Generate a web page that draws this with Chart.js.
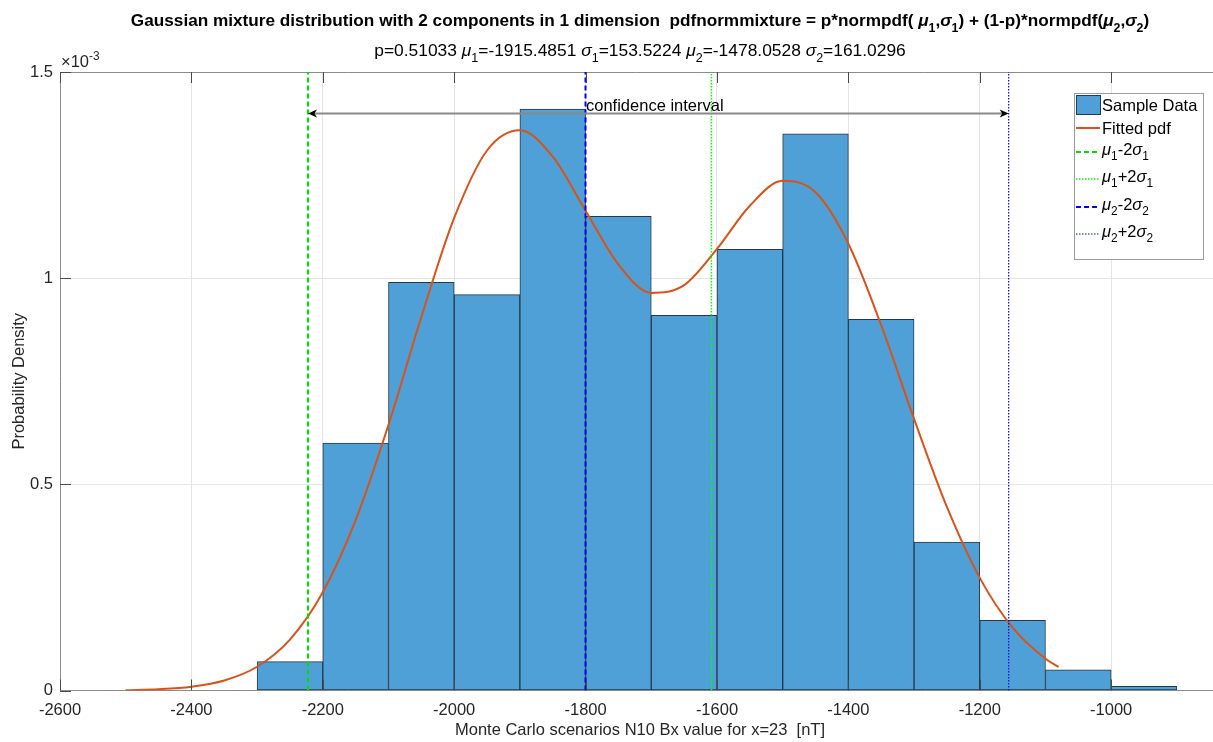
<!DOCTYPE html>
<html>
<head>
<meta charset="utf-8">
<script src="https://cdn.jsdelivr.net/npm/chart.js@4.4.1/dist/chart.umd.min.js"></script>
<style>
html,body{margin:0;padding:0;background:#fff;overflow:hidden}
#wrap{width:1213px;height:742px;position:relative}
canvas{display:block}
</style>
</head>
<body>
<div id="wrap"><canvas id="c" width="1213" height="742"></canvas></div>
<script>
// ---------------- data ----------------
const binCenters = [-2250,-2150,-2050,-1950,-1850,-1750,-1650,-1550,-1450,-1350,-1250,-1150,-1050,-950];
const binDensity = [0.07,0.60,0.99,0.96,1.41,1.15,0.91,1.07,1.35,0.90,0.36,0.17,0.05,0.01]; // x10^-3

const pdfX = [-2500,-2450,-2400,-2350,-2300,-2250,-2200,-2150,-2100,-2050,-2000,-1950,-1900,-1850,-1800,
              -1750,-1700,-1650,-1600,-1550,-1500,-1450,-1400,-1350,-1300,-1250,-1200,-1150,-1100,-1080];
const pdfY = [0.0009,0.0031,0.0091,0.0242,0.0576,0.1235,0.2382,0.4130,0.6445,0.9057,1.1460,1.3096,1.3585,1.2950,1.1637,
              1.0331,0.9643,0.9832,1.0711,1.1757,1.2360,1.2082,1.0834,0.8858,0.6586,0.4451,0.2731,0.1524,0.0770,0.0571];

const refLineX = [-2222.53, -1608.44, -1800.11, -1155.99]; // mu1-2s1, mu1+2s1, mu2-2s2, mu2+2s2

const xTicks = [-2600,-2400,-2200,-2000,-1800,-1600,-1400,-1200,-1000];
const yTicks = [0,0.5,1,1.5];
const yTickLabels = ['0','0.5','1','1.5'];

const mixP = 0.51033;
const muVals = [-1915.4851, -1478.0528];
const sigmaVals = [153.5224, 161.0296];

const ciY = 1.40;          // confidence interval arrow height (x10^-3)
const ciLabel = 'confidence interval';

// ---------------- styles ----------------
const FONT = '"Liberation Sans", Arial, Helvetica, sans-serif';
const FS = 16.5;
const BAR_FILL = 'rgb(78,160,214)';
const BAR_EDGE = '#26394a';
const PDF_COLOR = 'rgb(217,83,25)';
const GREEN = '#00e000';
const GREEN_DOT = '#00ff00';
const BLUE = '#0000f5';
const AXIS = '#8c8c8c';

function segFont(size, bold, italic){ return (italic?'italic ':'')+(bold?'bold ':'')+size+'px '+FONT; }
function layoutRich(ctx, segs, size, bold){
  let w=0; const items=[];
  for(const s of segs){
    const t=s[0], kind=s[1]||'';
    let sz=size, dy=0, it=false;
    if(kind==='sub'){sz=size*0.72; dy=size*0.33;}
    else if(kind==='sup'){sz=size*0.72; dy=-size*0.45;}
    else if(kind==='g'){it=true;}
    const f=segFont(sz,bold,it); ctx.font=f;
    const mw=ctx.measureText(t).width;
    items.push({t,f,dy,x:w}); w+=mw;
  }
  return {items,w};
}
function drawRich(ctx, segs, x, y, size, bold, align, color){
  const L=layoutRich(ctx,segs,size,bold);
  const x0 = align==='center' ? x-L.w/2 : (align==='right' ? x-L.w : x);
  ctx.save(); ctx.fillStyle=color||'#000'; ctx.textBaseline='alphabetic'; ctx.textAlign='left';
  for(const it of L.items){ ctx.font=it.f; ctx.fillText(it.t, x0+it.x, y+it.dy); }
  ctx.restore();
}

const titleSegs = [['Gaussian mixture distribution with 2 components in 1 dimension  pdfnormmixture = p*normpdf( '],
  ['μ','g'],['1','sub'],[','],['σ','g'],['1','sub'],[') + (1-p)*normpdf('],['μ','g'],['2','sub'],[','],['σ','g'],['2','sub'],[')']];
const subSegs = [['p='+String(mixP)+' '],['μ','g'],['1','sub'],['='+String(muVals[0])+' '],['σ','g'],['1','sub'],['='+String(sigmaVals[0])+' '],
  ['μ','g'],['2','sub'],['='+String(muVals[1])+' '],['σ','g'],['2','sub'],['='+String(sigmaVals[1])]];

const legendItems = [
  {kind:'patch', segs:[['Sample Data']], y:105},
  {kind:'line', color:PDF_COLOR, width:2, dash:[], segs:[['Fitted pdf']], y:128},
  {kind:'line', color:GREEN, width:2, dash:[5,3], segs:[['μ','g'],['1','sub'],['-2'],['σ','g'],['1','sub']], y:152, g:true},
  {kind:'line', color:GREEN_DOT, width:1.5, dash:[1.5,1.5], segs:[['μ','g'],['1','sub'],['+2'],['σ','g'],['1','sub']], y:179, g:true},
  {kind:'line', color:BLUE, width:2, dash:[5,3], segs:[['μ','g'],['2','sub'],['-2'],['σ','g'],['2','sub']], y:207, g:true},
  {kind:'line', color:BLUE, width:1.2, dash:[1.5,1.5], segs:[['μ','g'],['2','sub'],['+2'],['σ','g'],['2','sub']], y:234, g:true}
];

const decor = {
  id:'decor',
  beforeDatasetsDraw(chart){
    const {ctx, chartArea:a} = chart;
    ctx.save();
    ctx.strokeStyle=AXIS; ctx.lineWidth=1;
    ctx.beginPath(); ctx.moveTo(a.left, a.top+0.5); ctx.lineTo(a.right, a.top+0.5); ctx.stroke();
    ctx.restore();
  },
  afterDatasetsDraw(chart){
    const {ctx, chartArea:a, scales:{x,y}} = chart;
    ctx.save();
    // inward tick marks
    ctx.strokeStyle='#4a4a4a'; ctx.lineWidth=1;
    ctx.beginPath();
    for(const v of xTicks){ const px=Math.round(x.getPixelForValue(v))+0.5;
      ctx.moveTo(px,a.bottom); ctx.lineTo(px,a.bottom-11);
      ctx.moveTo(px,a.top); ctx.lineTo(px,a.top+11); }
    for(const v of yTicks){ const py=Math.round(y.getPixelForValue(v))+0.5;
      ctx.moveTo(a.left,py); ctx.lineTo(a.left+11,py); }
    ctx.stroke();

    // confidence interval double arrow
    const x1=x.getPixelForValue(refLineX[0]), x2=x.getPixelForValue(refLineX[3]);
    const yy=Math.round(y.getPixelForValue(ciY))+0.5;
    ctx.strokeStyle='#8a8a8a'; ctx.lineWidth=1.8;
    ctx.beginPath(); ctx.moveTo(x1+4,yy); ctx.lineTo(x2-4,yy); ctx.stroke();
    ctx.fillStyle='#000';
    const head=(tx,dir)=>{ ctx.beginPath(); ctx.moveTo(tx,yy); ctx.lineTo(tx+dir*9,yy-4); ctx.lineTo(tx+dir*6.5,yy); ctx.lineTo(tx+dir*9,yy+4); ctx.closePath(); ctx.fill(); };
    head(x1,1); head(x2,-1);
    ctx.font=segFont(FS,false,false); ctx.textAlign='left'; ctx.textBaseline='alphabetic';
    ctx.fillText(ciLabel, x.getPixelForValue(refLineX[2])+0.5, yy-3);

    // y exponent
    drawRich(ctx, [['×10'],['-3','sup']], a.left+1, a.top-5, FS, false, 'left', '#262626');
    ctx.restore();
  },
  afterDraw(chart){
    const {ctx} = chart;
    // titles
    drawRich(ctx, titleSegs, 640, 26, 17.2, true, 'center', '#000');
    drawRich(ctx, subSegs, 640, 56, 17.4, false, 'center', '#000');
    // legend
    ctx.save();
    const L=1074.5, T=93.5, R=1203.5, B=259.5;
    ctx.fillStyle='#fff'; ctx.fillRect(L,T,R-L,B-T);
    ctx.strokeStyle='#9a9a9a'; ctx.lineWidth=1; ctx.strokeRect(L,T,R-L,B-T);
    for(const it of legendItems){
      if(it.kind==='patch'){
        ctx.fillStyle=BAR_FILL; ctx.fillRect(1076.5,it.y-9.5,24,19);
        ctx.strokeStyle=BAR_EDGE; ctx.lineWidth=1; ctx.strokeRect(1076.5,it.y-9.5,24,19);
      } else {
        ctx.strokeStyle=it.color; ctx.lineWidth=it.width; ctx.setLineDash(it.dash);
        ctx.beginPath(); ctx.moveTo(1076,it.y); ctx.lineTo(1100,it.y); ctx.stroke(); ctx.setLineDash([]);
      }
      drawRich(ctx, it.segs, 1102, it.y + (it.g?2.5:5.5), FS, false, 'left', '#000');
    }
    ctx.restore();
    // x axis title (centred like the reference)
    ctx.save();
    ctx.font=segFont(FS,false,false); ctx.fillStyle='#262626'; ctx.textAlign='center'; ctx.textBaseline='alphabetic';
    ctx.fillText('Monte Carlo scenarios N10 Bx value for x=23  [nT]', 640, 735);
    ctx.restore();
  }
};

const vLine = (v,color,width,dash)=>({
  type:'line', data:[{x:v,y:0},{x:v,y:1.5}], borderColor:color, borderWidth:width, borderDash:dash,
  pointRadius:0, fill:false, order:1
});

new Chart(document.getElementById('c'), {
  type:'bar',
  data:{
    datasets:[
      { type:'bar', label:'Sample Data', data:binCenters.map((c,i)=>({x:c,y:binDensity[i]})),
        backgroundColor:BAR_FILL, borderColor:BAR_EDGE, borderWidth:1, borderSkipped:false,
        barPercentage:1, categoryPercentage:1, order:3 },
      { type:'line', label:'Fitted pdf', data:pdfX.map((v,i)=>({x:v,y:pdfY[i]})), borderColor:PDF_COLOR,
        borderWidth:2, pointRadius:0, fill:false, cubicInterpolationMode:'monotone', order:2 },
      vLine(refLineX[0], GREEN, 2, [5,3]),
      vLine(refLineX[1], GREEN_DOT, 1.5, [1.5,1.5]),
      vLine(refLineX[2], BLUE, 2, [5,3]),
      vLine(refLineX[3], BLUE, 1.2, [1.5,1.5])
    ]
  },
  options:{
    responsive:false, animation:false, devicePixelRatio:1, events:[],
    layout:{padding:{top:72,left:0,right:0,bottom:0}},
    plugins:{legend:{display:false}, title:{display:false}, tooltip:{enabled:false}},
    scales:{
      x:{ type:'linear', min:-2600, max:-845, offset:false,
          grid:{color:'#e4e4e4', drawTicks:false, offset:false},
          border:{display:true, color:AXIS, width:1},
          afterBuildTicks:s=>{ s.ticks = xTicks.map(v=>({value:v})); },
          afterFit:s=>{ s.height = 51.5; },
          ticks:{ padding:10, color:'#262626', font:{family:FONT, size:FS}, maxRotation:0, autoSkip:false,
                  callback:v=>String(v) },
          title:{ display:false } },
      y:{ type:'linear', min:0, max:1.5,
          grid:{color:'#e4e4e4', drawTicks:false},
          border:{display:true, color:AXIS, width:1},
          afterBuildTicks:s=>{ s.ticks = yTicks.map(v=>({value:v})); },
          afterFit:s=>{ s.width = 60; },
          ticks:{ padding:7, color:'#262626', font:{family:FONT, size:FS},
                  callback:(v)=>{ const i=yTicks.indexOf(v); return i>=0?yTickLabels[i]:''; } },
          title:{ display:true, text:'Probability Density', color:'#262626',
                  font:{family:FONT, size:FS}, padding:{top:10,bottom:0} } }
    }
  },
  plugins:[decor]
});
</script>
</body>
</html>
